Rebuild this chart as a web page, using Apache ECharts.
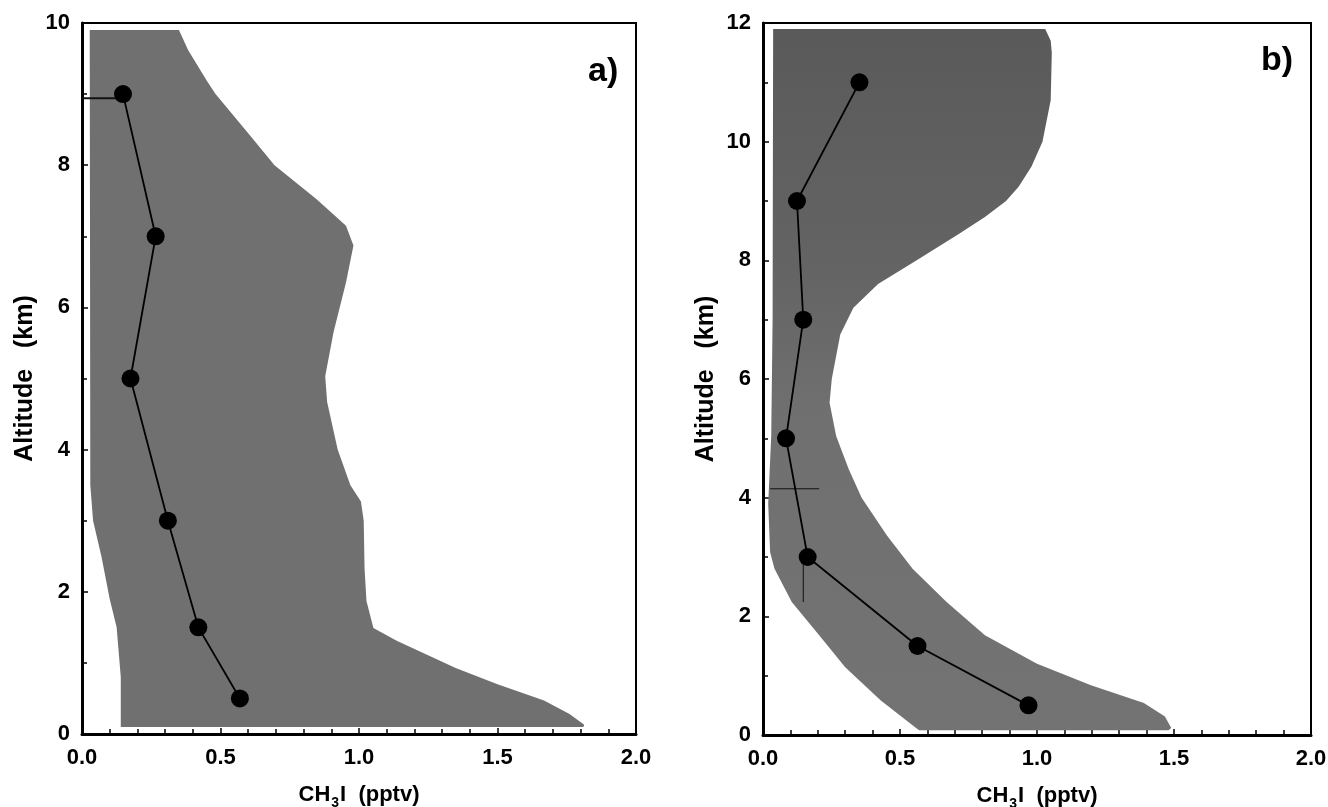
<!DOCTYPE html>
<html>
<head>
<meta charset="utf-8">
<script src="https://cdn.jsdelivr.net/npm/echarts@6/dist/echarts.min.js"></script>
<style>
html,body{margin:0;padding:0;background:#fff;}
#c{width:1328px;height:807px;}
</style>
</head>
<body>
<div id="c"></div>
<script>
// ---------- data (x = CH3I pptv, y = altitude km) ----------
const profileA = [[0.148, 9], [0.266, 7], [0.175, 5], [0.31, 3], [0.42, 1.5], [0.57, 0.5]];
const profileB = [[0.352, 11], [0.124, 9], [0.147, 7], [0.084, 5], [0.163, 3], [0.564, 1.5], [0.969, 0.5]];

// envelope right edge (top -> bottom) and left edge (bottom -> top)
const envARight = [[0.35, 9.9], [0.383, 9.62], [0.45, 9.19], [0.482, 9.0], [0.60, 8.45], [0.695, 8.0], [0.847, 7.52],
  [0.953, 7.15], [0.98, 6.87], [0.953, 6.35], [0.908, 5.65], [0.878, 5.03], [0.885, 4.67], [0.923, 4.0],
  [0.969, 3.5], [1.007, 3.27], [1.017, 3.0], [1.02, 2.33], [1.027, 1.87], [1.052, 1.49], [1.136, 1.31],
  [1.349, 0.93], [1.50, 0.70], [1.668, 0.47], [1.76, 0.28], [1.813, 0.13], [1.81, 0.1]];
const envALeft = [[0.14, 0.1], [0.14, 0.8], [0.125, 1.5], [0.10, 1.9], [0.07, 2.5], [0.04, 3.0], [0.03, 3.5], [0.028, 9.9]];

const envBRight = [[1.03, 11.9], [1.05, 11.7], [1.054, 11.5], [1.05, 10.7], [1.02, 10.0], [0.98, 9.58], [0.933, 9.24],
  [0.887, 9.0], [0.81, 8.73], [0.716, 8.45], [0.561, 8.0], [0.42, 7.6], [0.33, 7.2], [0.282, 6.75], [0.251, 6.0],
  [0.243, 5.6], [0.267, 5.04], [0.313, 4.48], [0.36, 4.0], [0.453, 3.36], [0.546, 2.8], [0.67, 2.24],
  [0.81, 1.68], [1.0, 1.2], [1.197, 0.84], [1.39, 0.54], [1.467, 0.31], [1.49, 0.12], [1.48, 0.08]];
const envBLeft = [[0.57, 0.08], [0.561, 0.11], [0.43, 0.58], [0.30, 1.14], [0.205, 1.68], [0.105, 2.24], [0.042, 2.8],
  [0.026, 3.08], [0.019, 3.9], [0.03, 5.04], [0.035, 7.0], [0.037, 11.9]];

// error bars
const errA1 = [[0.0, 8.94], [0.148, 8.94]];
const errB1 = [[0.147, 3.0], [0.147, 2.24]];
const errB2 = [[0.026, 4.15], [0.205, 4.15]];

// axis settings
const xTicks = {min: 0, max: 2, interval: 0.5};
const yMaxA = 10, yMaxB = 12, yInterval = 2;

// ---------- chart ----------
const chart = echarts.init(document.getElementById('c'));
const FONT = 'Liberation Sans, Arial, sans-serif';

function xAxisCfg(gi) {
  return {
    type: 'value', gridIndex: gi, min: xTicks.min, max: xTicks.max, interval: xTicks.interval,
    name: '{a|CH}{s|3}{a|I  (pptv)}', nameLocation: 'middle', nameGap: 48,
    nameTextStyle: {
      rich: {
        a: {fontFamily: FONT, fontWeight: 'bold', fontSize: 22, color: '#000', lineHeight: 24, verticalAlign: 'bottom'},
        s: {fontFamily: FONT, fontWeight: 'bold', fontSize: 14, color: '#000', lineHeight: 24, verticalAlign: 'bottom', padding: [0, 1, -4, 1]}
      }
    },
    axisLine: {show: true, onZero: false, lineStyle: {color: '#000', width: 3}},
    axisTick: {show: true, inside: true, length: 6, lineStyle: {color: '#000', width: 1.5}},
    minorTick: {show: true, splitNumber: 5, length: 5, lineStyle: {color: '#000', width: 1.5}},
    splitLine: {show: false}, minorSplitLine: {show: false},
    axisLabel: {
      margin: 13, color: '#000', fontFamily: FONT, fontWeight: 'bold', fontSize: 22,
      formatter: v => v.toFixed(1)
    }
  };
}
function yAxisCfg(gi, max) {
  return {
    type: 'value', gridIndex: gi, min: 0, max: max, interval: yInterval,
    name: 'Altitude   (km)', nameLocation: 'middle', nameGap: 44, nameRotate: 90,
    nameTextStyle: {fontFamily: FONT, fontWeight: 'bold', fontSize: 25, color: '#000'},
    axisLine: {show: true, onZero: false, lineStyle: {color: '#000', width: 3}},
    axisTick: {show: true, inside: true, length: 6, lineStyle: {color: '#000', width: 1.5}},
    minorTick: {show: true, splitNumber: 2, length: 5, lineStyle: {color: '#000', width: 1.5}},
    splitLine: {show: false}, minorSplitLine: {show: false},
    axisLabel: {margin: 12, color: '#000', fontFamily: FONT, fontWeight: 'bold', fontSize: 22}
  };
}

function envelopeSeries(gi, right, left, fill) {
  const poly = right.concat(left);
  return {
    type: 'custom', xAxisIndex: gi, yAxisIndex: gi, z: 1, silent: true,
    data: [[poly[0][0], poly[0][1]]],
    renderItem: function (params, api) {
      const pts = poly.map(p => api.coord(p));
      return {type: 'polygon', shape: {points: pts}, style: {fill: fill}};
    }
  };
}
function profileSeries(gi, data) {
  return {
    type: 'line', xAxisIndex: gi, yAxisIndex: gi, data: data, z: 5,
    symbol: 'circle', symbolSize: 18, itemStyle: {color: '#000'},
    lineStyle: {color: '#000', width: 1.8}, animation: false
  };
}
function errSeries(gi, data, w) {
  return {
    type: 'line', xAxisIndex: gi, yAxisIndex: gi, data: data, z: 4, symbol: 'none',
    lineStyle: {color: '#111', width: w}, animation: false
  };
}

const gradB = new echarts.graphic.LinearGradient(0, 0, 0, 1, [
  {offset: 0, color: '#5a5a5a'}, {offset: 0.35, color: '#646464'}, {offset: 0.55, color: '#707070'}, {offset: 1, color: '#737373'}
]);

chart.setOption({
  animation: false,
  backgroundColor: '#fff',
  grid: [
    {left: 82, top: 23, width: 554, height: 711, outerBoundsMode: 'none', containLabel: false,
      show: true, borderColor: '#000', borderWidth: 2, backgroundColor: 'transparent'},
    {left: 763, top: 23, width: 548, height: 712, outerBoundsMode: 'none', containLabel: false,
      show: true, borderColor: '#000', borderWidth: 2, backgroundColor: 'transparent'}
  ],
  xAxis: [xAxisCfg(0), xAxisCfg(1)],
  yAxis: [yAxisCfg(0, yMaxA), yAxisCfg(1, yMaxB)],
  graphic: [
    {type: 'text', left: 588, top: 55, style: {text: 'a)', fontFamily: FONT, fontWeight: 'bold', fontSize: 34, fill: '#000'}},
    {type: 'text', left: 1261, top: 44, style: {text: 'b)', fontFamily: FONT, fontWeight: 'bold', fontSize: 34, fill: '#000'}}
  ],
  series: [
    envelopeSeries(0, envARight, envALeft, '#707070'),
    errSeries(0, errA1, 2),
    profileSeries(0, profileA),
    envelopeSeries(1, envBRight, envBLeft, gradB),
    errSeries(1, errB1, 1),
    errSeries(1, errB2, 1),
    profileSeries(1, profileB)
  ]
});
</script>
</body>
</html>
